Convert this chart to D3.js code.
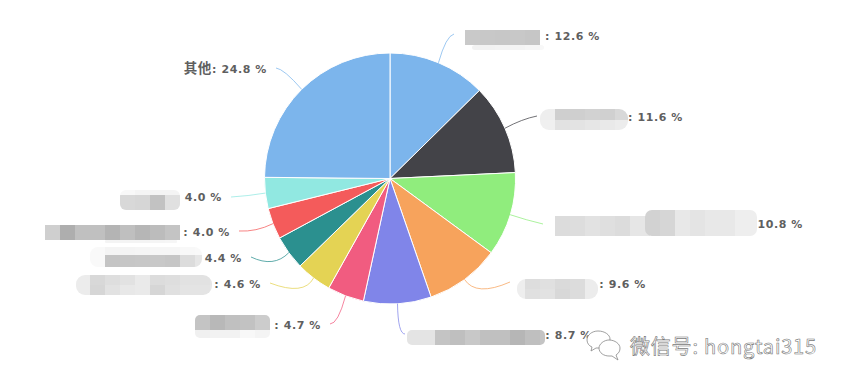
<!DOCTYPE html>
<html>
<head>
<meta charset="utf-8">
<script src="https://cdn.jsdelivr.net/npm/d3@7"></script>
<style>
  html, body { margin: 0; background: #fff; }
  .label { font: bold 11px "DejaVu Sans", sans-serif; fill: #5f5f5f; letter-spacing: 0.6px; }
  .label .cjk { font-family: "Noto Sans CJK SC", sans-serif; font-size: 13.5px; }
  .mark { font-family: "Noto Sans CJK SC", "Noto Sans", sans-serif; font-size: 20px; fill: #fff; stroke: #777; stroke-width: 0.6px; letter-spacing: 0.8px; }
</style>
</head>
<body>
<div id="chart"></div>
<script>
// names are blurred out in the picture, only the last one can be read
const names = ['', '', '', '', '', '', '', '', '', '', '其他']
const shares = [12.6, 11.6, 10.8, 9.6, 8.7, 4.7, 4.6, 4.4, 4.0, 4.0, 24.8]
const colors = ['#7cb5ec', '#434348', '#90ed7d', '#f7a35c', '#8085e9', '#f15c80', '#e4d354', '#2b908f', '#f45b5b', '#91e8e1', '#7cb5ec']

// where each label ends and where its connector bends
const labelPos = [
  { x: 600, y: 40, end: [454, 34], knee: [446, 36] },
  { x: 683, y: 121, end: [537, 116], knee: [522, 119] },
  { x: 803, y: 228, end: [543, 224], knee: [526, 220] },
  { x: 646, y: 288, end: [510, 282], knee: [476, 297] },
  { x: 592, y: 339, end: [405, 334], knee: [398, 334] },
  { x: 321, y: 329, end: [330, 324], knee: [338, 324] },
  { x: 261, y: 288, end: [270, 283], knee: [304, 296] },
  { x: 242, y: 262, end: [251, 257], knee: [274, 268] },
  { x: 230, y: 236, end: [239, 231], knee: [256, 232] },
  { x: 222, y: 201, end: [231, 197], knee: [248, 196] },
  { x: 267, y: 73, end: [276, 68], knee: [284, 69] }
]

// mosaic patches over the names, cells sit on a 15px grid
const cell = 15
const patches = [
  { x: 465, y: 30, w: 75, h: 15, r: 0, rows: [[15, ['c9', 'c8', 'c7', 'c8', 'c6', 'c4']]] },
  { x: 472, y: 45, w: 72, h: 5, r: 3, rows: [[5, ['f2', 'f2', 'f3', 'f4', 'f6', 'f8']]] },
  { x: 540, y: 109, w: 88, h: 21, r: 9, rows: [[11, ['ee', 'cf', 'cf', 'd2', 'd0', 'd8']], [10, ['f0', 'e2', 'e3', 'e6', 'e9', 'ec']]] },
  { x: 555, y: 216, w: 95, h: 20, r: 0, rows: [[20, ['dc', 'dd', 'e2', 'df', 'dc', 'e6', 'e6']]] },
  { x: 645, y: 210, w: 112, h: 26, r: 7, rows: [[26, ['d2', 'd6', 'e8', 'e4', 'e8', 'e8', 'ee', 'ee']]] },
  { x: 517, y: 279, w: 81, h: 20, r: 9, rows: [[10, ['ee', 'dd', 'e0', 'da', 'dc', 'ec']], [10, ['ee', 'e0', 'e2', 'd8', 'dc', 'ec']]] },
  { x: 407, y: 330, w: 138, h: 15, r: 5, rows: [[15, ['e4', 'e4', 'c4', 'bf', 'c8', 'c0', 'c0', 'b6', 'bf', 'c4']]] },
  { x: 195, y: 315, w: 75, h: 23, r: 5, rows: [[15, ['c4', 'b8', 'c0', 'c2', 'cc']], [8, ['f0', 'f2', 'f2', 'f8', 'f4']]] },
  { x: 76, y: 275, w: 136, h: 20, r: 9, rows: [[10, ['ec', 'd8', 'de', 'e2', 'ea', 'dc', 'de', 'e2', 'e2', 'e6']], [10, ['ec', 'd6', 'e2', 'e8', 'ea', 'd6', 'e0', 'e4', 'e4', 'e8']]] },
  { x: 90, y: 247, w: 112, h: 20, r: 8, rows: [[8, ['f9', 'f4', 'f4', 'f5', 'f6', 'f6', 'f8', 'f9']], [12, ['f9', 'c4', 'c6', 'c7', 'c8', 'c6', 'dc', 'e6']]] },
  { x: 45, y: 225, w: 135, h: 15, r: 0, rows: [[15, ['cf', 'ae', 'c0', 'c0', 'b4', 'bf', 'b6', 'bc', 'c4']]] },
  { x: 105, y: 240, w: 72, h: 3, r: 1, rows: [[3, ['f4', 'f4', 'f4', 'f5', 'f6']]] },
  { x: 120, y: 190, w: 60, h: 20, r: 6, rows: [[5, ['f8', 'f4', 'f4', 'f4']], [15, ['d8', 'd6', 'c2', 'e0']]] }
]

const width = 843
const height = 386
const cx = 390
const cy = 178.5
const radius = 125.5

const svg = d3.select('#chart')
  .append('svg')
  .attr('width', width)
  .attr('height', height)
  .style('display', 'block')

const pie = d3.pie().sort(null).value(d => d)(shares)
const arc = d3.arc().innerRadius(0).outerRadius(radius)
const edge = d3.arc().innerRadius(radius).outerRadius(radius)
const g = svg.append('g').attr('transform', `translate(${cx}, ${cy})`)

g.selectAll('path')
  .data(pie)
  .enter()
  .append('path')
  .attr('d', arc)
  .attr('fill', (d, i) => colors[i])
  .attr('stroke', '#fff')
  .attr('stroke-width', 1)

// connectors start on the rim of their slice
svg.selectAll('.conn')
  .data(pie)
  .enter()
  .append('path')
  .attr('class', 'conn')
  .attr('fill', 'none')
  .attr('stroke', (d, i) => colors[i])
  .attr('stroke-width', 1)
  .attr('opacity', 0.75)
  .attr('d', (d, i) => {
    const c = edge.centroid(d)
    const p = labelPos[i]
    return `M${cx + c[0]},${cy + c[1]}Q${p.knee[0]},${p.knee[1]} ${p.end[0]},${p.end[1]}`
  })

const labels = svg.selectAll('.label')
  .data(shares)
  .enter()
  .append('text')
  .attr('class', 'label')
  .attr('x', (d, i) => labelPos[i].x)
  .attr('y', (d, i) => labelPos[i].y)
  .attr('text-anchor', 'end')
labels.append('tspan').attr('class', 'cjk').text((d, i) => names[i])
labels.append('tspan').text(d => `: ${d.toFixed(1)} %`)

const defs = svg.append('defs')
patches.forEach((p, k) => {
  defs.append('clipPath')
    .attr('id', `patch${k}`)
    .append('rect')
    .attr('x', p.x)
    .attr('y', p.y)
    .attr('width', p.w)
    .attr('height', p.h)
    .attr('rx', p.r)

  const patch = svg.append('g').attr('clip-path', `url(#patch${k})`)
  const left = Math.floor(p.x / cell) * cell
  let top = p.y
  p.rows.forEach(row => {
    patch.selectAll(null)
      .data(row[1])
      .enter()
      .append('rect')
      .attr('x', (d, i) => left + i * cell)
      .attr('y', top)
      .attr('width', cell + 0.5)
      .attr('height', row[0])
      .attr('fill', d => `#${d}${d}${d}`)
    top += row[0]
  })
})

// watermark
const wm = svg.append('g')
  .attr('fill', '#fff')
  .attr('stroke', '#888')
  .attr('stroke-width', 0.8)
wm.append('path').attr('d', 'M598,331c-6,0-11,4-11,9c0,3,2,6,5,7l-1,4l5,-3c1,0 2,0 3,0c6,0 11,-4 11,-9c0,-4 -5,-8 -12,-8z')
wm.append('path').attr('d', 'M609,340c-5,0-10,4-10,8c0,5,5,8,10,8c1,0 2,0 3,0l6,4l-2,-5c3,-2 4,-4 4,-7c0,-4 -5,-8 -11,-8z')
svg.append('text')
  .attr('class', 'mark')
  .attr('x', 630)
  .attr('y', 354)
  .text('微信号: hongtai315')
</script>
</body>
</html>
